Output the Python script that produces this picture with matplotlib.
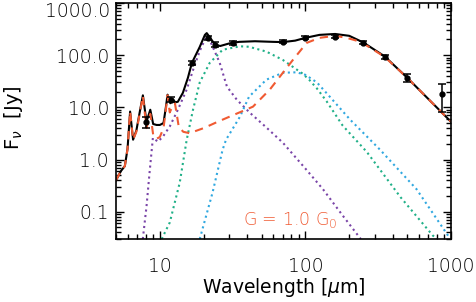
import matplotlib
matplotlib.use('Agg')
import matplotlib.pyplot as plt
from matplotlib.ticker import FixedLocator, FixedFormatter, LogLocator, NullFormatter

# total model (black solid)
tot_x = [5.0, 5.4, 5.75, 6.0, 6.25, 6.55, 6.9, 7.3, 7.65, 8.1, 8.6, 9.0, 9.5, 10.0, 10.6,
         11.0, 11.3, 11.8, 12.3, 12.8, 13.3, 14.4, 15.6, 16.6, 18.8, 20.4, 21.0, 21.9, 24.0,
         26.0, 30.0, 35.0, 45.0, 60.0, 70.0, 85.0, 100.0, 125.0, 160.0, 200.0, 250.0,
         350.0, 500.0, 700.0, 1000.0]
tot_y = [0.4, 0.6, 0.75, 1.6, 8.3, 2.4, 3.6, 8.5, 17.0, 5.3, 9.0, 4.8, 4.6, 4.6, 5.0,
         10.0, 17.5, 12.0, 14.0, 12.5, 12.8, 19.0, 37.0, 71.0, 144.0, 245.0, 265.0, 225.0, 158.0,
         150.0, 168.0, 180.0, 185.0, 180.0, 178.0, 190.0, 215.0, 245.0, 255.0, 235.0, 175.0,
         95.0, 37.0, 14.4, 5.3]

# G = 1.0 G0 component (red dashed)
red_x = [5.0, 5.4, 5.75, 6.0, 6.25, 6.55, 6.9, 7.3, 7.65, 8.1, 8.6, 9.0, 9.5, 10.0, 10.6,
         11.0, 11.3, 11.7, 12.3, 12.7, 13.5, 14.5, 16.0, 18.0, 20.0, 25.0, 30.0, 43.6, 48.6,
         57.0, 70.0, 82.0, 102.0, 125.0, 160.0, 192.0, 240.0, 350.0, 500.0, 700.0, 1000.0]
red_y = [0.4, 0.6, 0.75, 1.6, 8.3, 2.4, 3.4, 8.0, 16.5, 4.0, 7.5, 3.0, 2.5, 2.7, 4.0,
         9.0, 17.0, 8.0, 11.0, 12.0, 4.2, 3.4, 3.2, 3.6, 4.0, 5.3, 6.6, 10.3, 14.0,
         22.0, 46.0, 81.0, 172.0, 215.0, 235.0, 215.0, 180.0, 93.0, 37.0, 14.4, 5.3]

# purple dotted
pur_x = [7.64, 8.1, 8.5, 8.96, 9.7, 10.5, 11.7, 13.3, 15.3, 17.2, 18.8, 20.4, 21.3, 22.3,
         23.9, 25.8, 28.9, 33.8, 41.5, 54.0, 70.0, 100.0, 132.0, 180.0, 240.0]
pur_y = [0.03, 0.126, 0.56, 2.6, 2.2, 2.75, 4.3, 9.0, 22.0, 60.0, 120.0, 200.0, 225.0, 180.0,
         116.0, 71.0, 25.0, 14.0, 7.9, 4.1, 2.1, 0.67, 0.27, 0.085, 0.03]

# green dotted
grn_x = [10.3, 11.7, 13.7, 15.3, 16.9, 18.8, 22.0, 27.0, 35.5, 41.0, 54.0, 70.0, 96.0,
         107.0, 120.0, 140.0, 180.0, 264.0, 450.0, 750.0, 800.0]
grn_y = [0.03, 0.062, 0.36, 2.4, 9.0, 30.0, 71.0, 127.0, 148.0, 145.0, 117.0, 81.0, 44.0,
         33.0, 23.0, 13.0, 4.5, 1.4, 0.19, 0.035, 0.03]

# cyan dotted
cyn_x = [18.8, 23.0, 27.0, 28.5, 35.5, 41.0, 54.0, 70.0, 87.0, 100.0, 120.0, 147.0, 203.0,
         325.0, 580.0, 990.0]
cyn_y = [0.03, 0.23, 1.55, 2.4, 6.6, 16.0, 34.0, 46.0, 47.0, 42.0, 30.0, 16.0, 5.8,
         1.55, 0.27, 0.03]

# photometry
obs_x = [8.0, 12.0, 16.6, 21.4, 23.9, 31.8, 70.0, 100.0, 160.0, 250.0, 350.0, 500.0, 870.0]
obs_y = [5.3, 14.0, 71.0, 215.0, 160.0, 173.0, 180.0, 215.0, 225.0, 173.0, 93.0, 37.0, 18.0]
obs_e = [1.2, 1.5, 7.0, 20.0, 15.0, 18.0, 12.0, 15.0, 15.0, 12.0, 7.0, 6.0, 10.0]

ytick_vals = [0.1, 1, 10, 100]
ytick_txt = ['0.1', '1.0', '10.0', '100.0']
top_label = '1000.0'

plt.rcParams['font.family'] = 'DejaVu Sans'
plt.rcParams['font.weight'] = 'light'
plt.rcParams['mathtext.default'] = 'regular'
fig = plt.figure(figsize=(4.77, 3.02), dpi=100)
ax = fig.add_axes([116/477, 1-239/302, 335/477, 236/302])

ax.plot(pur_x, pur_y, ':', color='#7a45a8', lw=1.5)
ax.plot(grn_x, grn_y, ':', color='#20b088', lw=1.5)
ax.plot(cyn_x, cyn_y, ':', color='#30a8e0', lw=1.5)
ax.plot(tot_x, tot_y, '-', color='black', lw=1.5)
ax.plot(red_x, red_y, '--', color='#f05a32', lw=1.5, dashes=(4, 3))
ax.errorbar(obs_x, obs_y, yerr=obs_e, fmt='o', color='black', ms=3.5, capsize=3,
            elinewidth=1.1, capthick=1.1)

ax.set_xscale('log')
ax.set_yscale('log')
ax.set_xlim(5, 1000)
ax.set_ylim(0.03, 1000)

ax.xaxis.set_major_locator(FixedLocator([10, 100, 1000]))
ax.xaxis.set_major_formatter(FixedFormatter(['10', '100', '1000']))
ax.xaxis.set_minor_locator(LogLocator(base=10, subs=range(2, 10)))
ax.xaxis.set_minor_formatter(NullFormatter())
ax.yaxis.set_major_locator(FixedLocator(ytick_vals + [1000]))
ax.yaxis.set_major_formatter(FixedFormatter(ytick_txt + ['']))
ax.yaxis.set_minor_locator(LogLocator(base=10, subs=range(2, 10)))
ax.yaxis.set_minor_formatter(NullFormatter())

ax.tick_params(which='both', direction='in', top=True, right=True, width=1, labelsize=13.5)
ax.tick_params(which='major', length=6)
ax.tick_params(which='minor', length=3.5)
ax.tick_params(axis='x', which='major', pad=13)
ax.tick_params(axis='y', which='major', pad=5)
for s in ax.spines.values():
    s.set_linewidth(1.2)

# top y label sits just below the frame edge
ax.text(-0.018, 0.962, top_label, transform=ax.transAxes, ha='right', va='center',
        fontsize=13.5)

ax.set_xlabel(r'Wavelength [$\mathit{\mu}$m]', fontsize=13.5)
ax.set_ylabel(r'F$_{\mathit{\nu}}$  [Jy]', fontsize=14)
ax.xaxis.set_label_coords(0.5, -0.157)
ax.yaxis.set_label_coords(-0.272, 0.513)

ax.text(0.379, 0.08, r'G = 1.0 G$_0$', color='#f05a32', fontsize=12.5, transform=ax.transAxes,
        va='center', ha='left')

fig.savefig('out.png', dpi=100)
